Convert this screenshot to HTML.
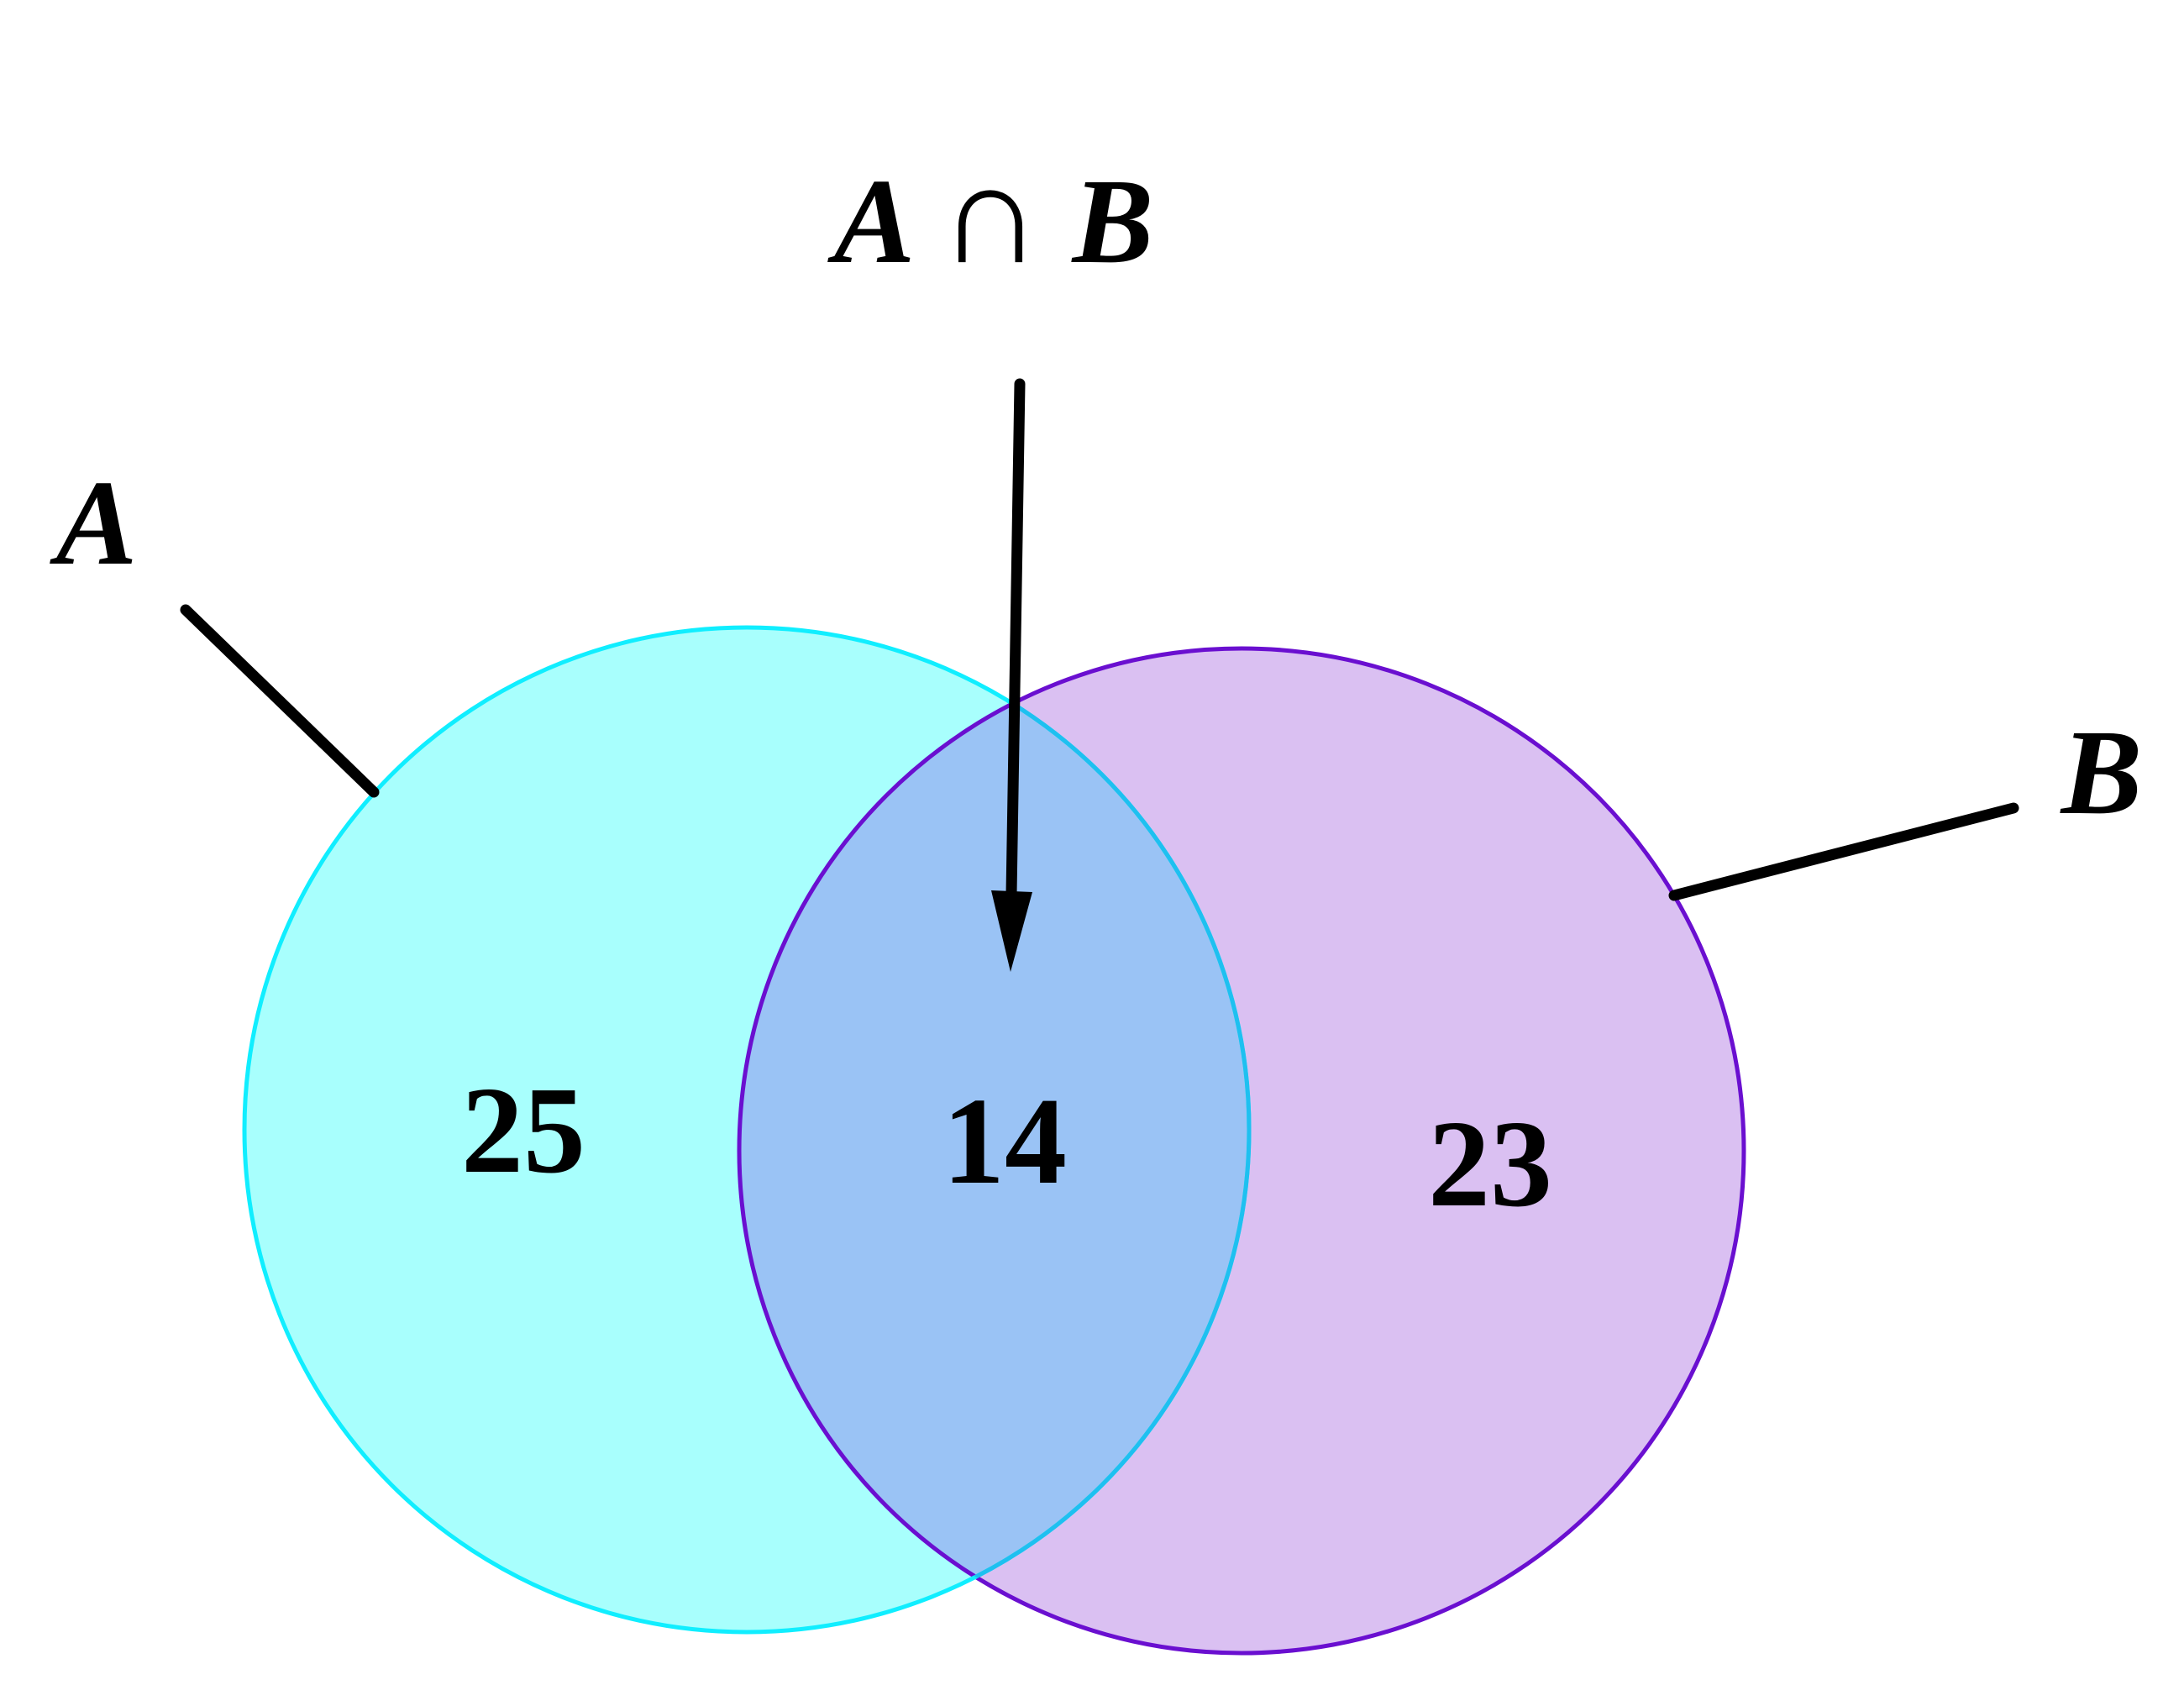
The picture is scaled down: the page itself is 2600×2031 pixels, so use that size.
<!DOCTYPE html>
<html><head><meta charset="utf-8"><style>
html,body{margin:0;padding:0;background:#fff;}
svg{display:block;}
text{font-family:"Liberation Serif",serif;fill:#000;}
</style></head><body>
<svg width="2600" height="2031" viewBox="0 0 2600 2031" xmlns="http://www.w3.org/2000/svg">
<defs>
<clipPath id="cb"><circle cx="1478" cy="1370" r="598"/></clipPath>
</defs>
<rect width="2600" height="2031" fill="#fff"/>
<circle cx="889" cy="1345" r="598" fill="#a8fffd"/>
<circle cx="1478" cy="1370" r="598" fill="#dac0f2"/>
<circle cx="889" cy="1345" r="598" fill="#9ac3f5" clip-path="url(#cb)"/>
<circle cx="1478" cy="1370" r="598" fill="none" stroke="#6a0fd0" stroke-width="5"/>
<circle cx="889" cy="1345" r="598" fill="none" stroke="#10eeff" stroke-width="5"/>
<circle cx="889" cy="1345" r="598" fill="none" stroke="#1ec0f0" stroke-width="5" clip-path="url(#cb)"/>
<line x1="221" y1="726" x2="445" y2="943" stroke="#000" stroke-width="13" stroke-linecap="round"/>
<line x1="1993" y1="1066" x2="2397" y2="962" stroke="#000" stroke-width="13" stroke-linecap="round"/>
<line x1="1214" y1="457" x2="1204" y2="1065" stroke="#000" stroke-width="13" stroke-linecap="round"/>
<polygon points="1180,1060 1229,1062 1203,1157" fill="#000"/>
<text x="115" y="671" font-size="145" font-style="italic" font-weight="bold" text-anchor="middle">A</text>
<text x="1183" y="312" font-size="145" font-style="italic" font-weight="bold" text-anchor="middle">A <tspan font-style="normal" font-weight="normal" font-size="170">∩</tspan> B</text>
<text x="2502" y="968" font-size="145" font-style="italic" font-weight="bold" text-anchor="middle">B</text>
<text x="623" y="1395" font-size="148" font-weight="bold" text-anchor="middle">25</text>
<text x="1196" y="1408" font-size="148" font-weight="bold" text-anchor="middle">14</text>
<text x="1774" y="1435" font-size="148" font-weight="bold" text-anchor="middle">23</text>
</svg>
</body></html>
